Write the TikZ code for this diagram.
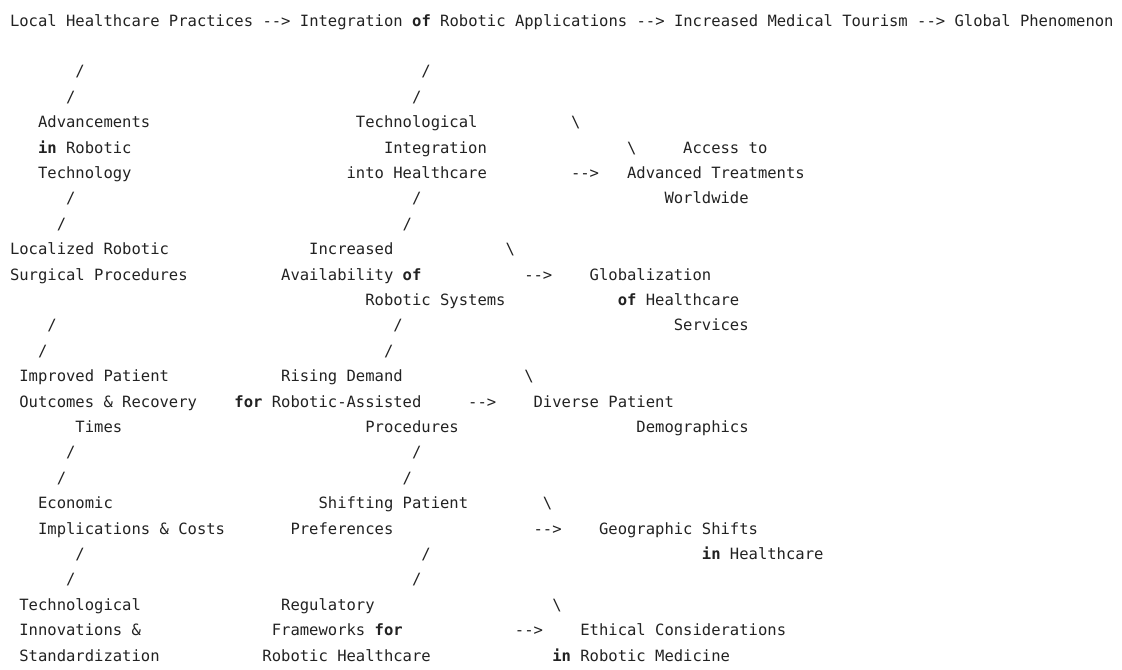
\documentclass[tikz,border=0pt]{standalone}
\usepackage{fontspec}
\setmonofont{DejaVu Sans Mono}
\usepackage{tikz}

\definecolor{codegray}{RGB}{34,34,34}
\tikzset{
  codeline/.style={anchor=base west, inner sep=0pt, outer sep=0pt, text=codegray,
    font=\ttfamily\fontsize{11.05pt}{13pt}\selectfont},
  slash/.style={codeline}
}

\begin{document}
\begin{tikzpicture}[x=0.23375cm, y=-0.635cm]

\useasboundingbox (-1.07,-1.024) rectangle (118.93,25.315);

\node[codeline] (top) at (0,0) {Local Healthcare Practices --> Integration \textbf{of} Robotic Applications --> Increased Medical Tourism --> Global Phenomenon};

\node[slash] (s1a) at (7,2) {/};
\node[slash] (s2a) at (44,2) {/};
\node[slash] (s1b) at (6,3) {/};
\node[slash] (s2b) at (43,3) {/};

\node[codeline] (adv1) at (3,4) {Advancements};
\node[codeline] (adv2) at (3,5) {\textbf{in} Robotic};
\node[codeline] (adv3) at (3,6) {Technology};
\node[codeline] (tint1) at (37,4) {Technological};
\node[codeline] (tint2) at (40,5) {Integration};
\node[codeline] (tint3) at (36,6) {into Healthcare};
\node[slash] (b1a) at (60,4) {\textbackslash};
\node[slash] (b1b) at (66,5) {\textbackslash};
\node[codeline] (ar1) at (60,6) {-->};
\node[codeline] (acc1) at (72,5) {Access to};
\node[codeline] (acc2) at (66,6) {Advanced Treatments};
\node[codeline] (acc3) at (70,7) {Worldwide};

\node[slash] (s1c) at (6,7) {/};
\node[slash] (s2c) at (43,7) {/};
\node[slash] (s1d) at (5,8) {/};
\node[slash] (s2d) at (42,8) {/};

\node[codeline] (loc1) at (0,9) {Localized Robotic};
\node[codeline] (loc2) at (0,10) {Surgical Procedures};
\node[codeline] (avail1) at (32,9) {Increased};
\node[codeline] (avail2) at (29,10) {Availability \textbf{of}};
\node[codeline] (avail3) at (38,11) {Robotic Systems};
\node[slash] (b2) at (53,9) {\textbackslash};
\node[codeline] (ar2) at (55,10) {-->};
\node[codeline] (glob1) at (62,10) {Globalization};
\node[codeline] (glob2) at (65,11) {\textbf{of} Healthcare};
\node[codeline] (glob3) at (71,12) {Services};

\node[slash] (s1e) at (4,12) {/};
\node[slash] (s2e) at (41,12) {/};
\node[slash] (s1f) at (3,13) {/};
\node[slash] (s2f) at (40,13) {/};

\node[codeline] (imp1) at (1,14) {Improved Patient};
\node[codeline] (imp2) at (1,15) {Outcomes \& Recovery};
\node[codeline] (imp3) at (7,16) {Times};
\node[codeline] (rise1) at (29,14) {Rising Demand};
\node[codeline] (rise2) at (24,15) {\textbf{for} Robotic-Assisted};
\node[codeline] (rise3) at (38,16) {Procedures};
\node[slash] (b3) at (55,14) {\textbackslash};
\node[codeline] (ar3) at (49,15) {-->};
\node[codeline] (div1) at (56,15) {Diverse Patient};
\node[codeline] (div2) at (67,16) {Demographics};

\node[slash] (s1g) at (6,17) {/};
\node[slash] (s2g) at (43,17) {/};
\node[slash] (s1h) at (5,18) {/};
\node[slash] (s2h) at (42,18) {/};

\node[codeline] (eco1) at (3,19) {Economic};
\node[codeline] (eco2) at (3,20) {Implications \& Costs};
\node[codeline] (shift1) at (33,19) {Shifting Patient};
\node[codeline] (shift2) at (30,20) {Preferences};
\node[slash] (b4) at (57,19) {\textbackslash};
\node[codeline] (ar4) at (56,20) {-->};
\node[codeline] (geo1) at (63,20) {Geographic Shifts};
\node[codeline] (geo2) at (74,21) {\textbf{in} Healthcare};

\node[slash] (s1i) at (7,21) {/};
\node[slash] (s2i) at (44,21) {/};
\node[slash] (s1j) at (6,22) {/};
\node[slash] (s2j) at (43,22) {/};

\node[codeline] (inno1) at (1,23) {Technological};
\node[codeline] (inno2) at (1,24) {Innovations \&};
\node[codeline] (inno3) at (1,25) {Standardization};
\node[codeline] (reg1) at (29,23) {Regulatory};
\node[codeline] (reg2) at (28,24) {Frameworks \textbf{for}};
\node[codeline] (reg3) at (27,25) {Robotic Healthcare};
\node[slash] (b5) at (58,23) {\textbackslash};
\node[codeline] (ar5) at (54,24) {-->};
\node[codeline] (eth1) at (61,24) {Ethical Considerations};
\node[codeline] (eth2) at (58,25) {\textbf{in} Robotic Medicine};

\end{tikzpicture}
\end{document}
